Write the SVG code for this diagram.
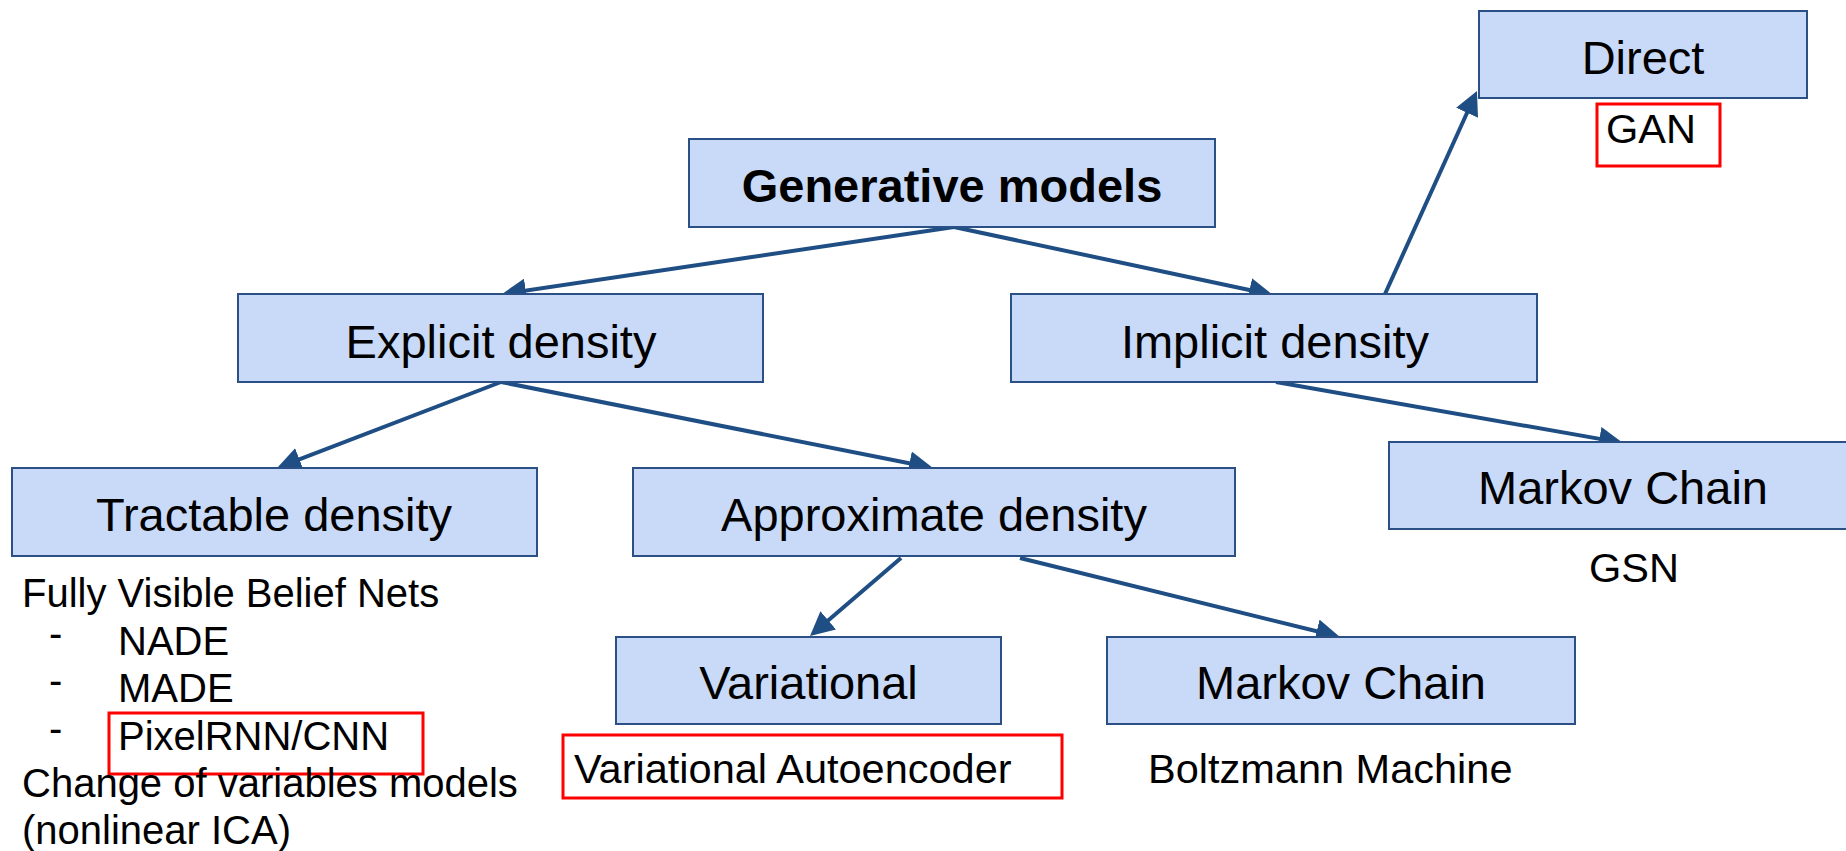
<svg xmlns="http://www.w3.org/2000/svg" width="1846" height="851" viewBox="0 0 1846 851">
<defs>
<marker id="ah" markerUnits="userSpaceOnUse" markerWidth="24" markerHeight="24" refX="19" refY="12" orient="auto" viewBox="0 0 24 24">
<path d="M0,0 L24,12 L0,24 z" fill="#1f4e84"/>
</marker>
<style>
.box{fill:#c9daf8;stroke:#2b5085;stroke-width:2}
.t{font-family:"Liberation Sans",Arial,sans-serif;font-size:47px;fill:#000}
.c{text-anchor:middle}
.s{font-family:"Liberation Sans",Arial,sans-serif;font-size:41.5px;fill:#000}
.l{font-family:"Liberation Sans",Arial,sans-serif;font-size:40px;fill:#000}
.red{fill:none;stroke:#ff0000;stroke-width:3}
.e{fill:none;stroke:#1f4e84;stroke-width:4;marker-end:url(#ah)}
</style>
</defs>
<rect width="1846" height="851" fill="#ffffff"/>
<g id="connectors">
<line class="e" x1="954" y1="227" x2="507" y2="293.3"/>
<line class="e" x1="954" y1="227" x2="1268.1" y2="294"/>
<line class="e" x1="1385" y1="294" x2="1474.9" y2="95.5"/>
<line class="e" x1="1276" y1="382" x2="1618.1" y2="442.1"/>
<line class="e" x1="501" y1="382" x2="281.7" y2="466.2"/>
<line class="e" x1="501" y1="382" x2="928.1" y2="467"/>
<line class="e" x1="901" y1="558" x2="813.8" y2="632.7"/>
<line class="e" x1="1020" y1="558" x2="1335.1" y2="635.8"/>
</g>
<g id="generative">
<rect class="box" x="689" y="139" width="526" height="88"/>
<text class="t c" x="952" y="202" font-weight="bold">Generative models</text>
</g>
<g id="explicit">
<rect class="box" x="238" y="294" width="525" height="88"/>
<text class="t c" x="501" y="358">Explicit density</text>
</g>
<g id="implicit">
<rect class="box" x="1011" y="294" width="526" height="88"/>
<text class="t c" x="1275" y="358">Implicit density</text>
</g>
<g id="direct">
<rect class="box" x="1479" y="11" width="328" height="87"/>
<text class="t c" x="1643" y="74">Direct</text>
</g>
<g id="gan">
<rect class="red" x="1597" y="104" width="123" height="62"/>
<text class="s" x="1606" y="143">GAN</text>
</g>
<g id="tractable">
<rect class="box" x="12" y="468" width="525" height="88"/>
<text class="t c" x="274" y="531">Tractable density</text>
</g>
<g id="approximate">
<rect class="box" x="633" y="468" width="602" height="88"/>
<text class="t c" x="934" y="531">Approximate density</text>
</g>
<g id="markov-implicit">
<rect class="box" x="1389" y="442" width="468" height="87"/>
<text class="t c" x="1623" y="504">Markov Chain</text>
<text class="s" x="1589" y="582">GSN</text>
</g>
<g id="variational">
<rect class="box" x="616" y="637" width="385" height="87"/>
<text class="t c" x="808.5" y="699">Variational</text>
<rect class="red" x="563" y="735" width="499" height="63"/>
<text class="s" x="574" y="783">Variational Autoencoder</text>
</g>
<g id="markov-approx">
<rect class="box" x="1107" y="637" width="468" height="87"/>
<text class="t c" x="1341" y="699">Markov Chain</text>
<text class="s" x="1148" y="783">Boltzmann Machine</text>
</g>
<g id="tractable-list">
<text class="l" x="22" y="607">Fully Visible Belief Nets</text>
<text class="l" x="49" y="647">-</text>
<text class="l" x="118" y="655">NADE</text>
<text class="l" x="49" y="694">-</text>
<text class="l" x="118" y="702">MADE</text>
<text class="l" x="49" y="742">-</text>
<rect class="red" x="109" y="713" width="314" height="61"/>
<text class="l" x="118" y="750">PixelRNN/CNN</text>
<text class="l" x="22" y="797">Change of variables models</text>
<text class="l" x="22" y="844">(nonlinear ICA)</text>
</g>
</svg>
